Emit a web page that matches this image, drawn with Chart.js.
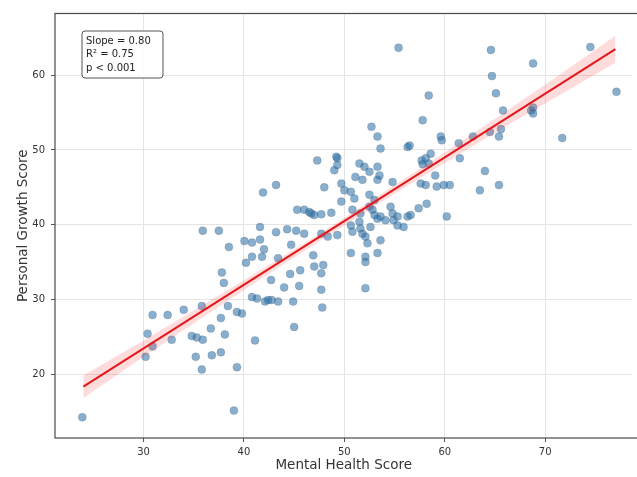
<!DOCTYPE html>
<html>
<head>
<meta charset="utf-8">
<script src="https://cdn.jsdelivr.net/npm/chart.js@4.4.1/dist/chart.umd.min.js"></script>
<style>
  html, body { margin: 0; padding: 0; background: #fff; overflow: hidden; }
  #wrap { width: 637px; height: 477px; }
</style>
</head>
<body>
<div id="wrap"><canvas id="regChart" width="637" height="477"></canvas></div>
<script>
// Scatter values (x = mental health, y = personal growth)
const mentalHealth = [
  23.9, 35.9, 37.5, 38.5, 40.05, 40.8, 41.6, 41.6, 42.0, 41.8, 40.8, 40.2, 43.2, 44.3, 45.2, 46.0,
  44.7, 45.3, 46.7, 47.0, 48.7, 49.7, 47.7, 48.35, 49.3, 43.4, 42.7, 44.0, 44.6, 45.6, 45.5, 46.9,
  47.0, 47.9, 47.7, 47.7, 47.8, 44.9, 45.0, 42.75, 43.4, 40.8, 41.3, 42.1, 42.4, 41.1, 39.3, 39.8,
  38.4, 37.8, 38.0, 37.7, 35.8, 34.0, 32.4, 30.9, 36.7, 38.1, 34.8, 35.3, 35.9, 32.8, 30.4, 30.9,
  30.2, 35.2, 36.8, 37.7, 35.8, 39.3, 39.0, 41.9, 43.2, 48.0, 47.3, 49.0, 46.5, 47.7,
  52.7, 57.8, 53.3, 53.6, 56.3, 56.5, 59.6, 59.7, 49.3, 49.3, 51.5, 52.0, 52.5, 53.3, 53.5, 51.1,
  51.8, 53.3, 57.7, 58.1, 58.6, 57.8, 58.4, 49.7, 50.0, 50.65, 51.0, 52.5, 53.0, 54.8, 57.6, 58.1,
  59.2, 59.9, 60.5, 59.05, 46.0, 50.8, 51.6, 52.5, 52.8, 53.0, 53.3, 53.6, 54.6, 54.8, 55.3, 56.3,
  56.6, 57.4, 58.2, 60.2, 50.65, 50.8, 51.6, 52.1, 52.6, 54.1, 55.3, 55.9, 52.3, 53.6, 53.3, 50.65,
  52.1, 52.1, 52.1, 51.8, 51.5, 54.9, 64.6, 68.8, 74.5, 77.1, 64.7, 65.1, 65.8, 68.6, 68.8, 68.8,
  71.7, 65.6, 64.5, 65.4, 62.8, 61.4, 61.5, 64.0, 63.5, 65.4, 58.4, 55.4, 49.2
];
const personalGrowth = [
  14.2, 39.2, 39.2, 37.0, 37.8, 37.6, 39.7, 38.0, 36.7, 35.7, 35.7, 34.9, 39.0, 39.4, 39.2, 38.8,
  37.3, 42.0, 41.5, 41.3, 41.6, 43.1, 38.8, 38.4, 38.6, 35.5, 32.6, 31.6, 33.4, 33.9, 31.8, 35.9,
  34.4, 34.6, 33.5, 31.3, 28.9, 29.7, 26.3, 29.9, 29.7, 30.3, 30.1, 29.7, 29.9, 24.5, 28.3, 28.1,
  29.1, 33.6, 32.2, 27.5, 29.1, 28.6, 27.9, 27.9, 26.1, 25.3, 25.1, 24.9, 24.6, 24.6, 25.4, 23.7,
  22.3, 22.3, 22.5, 22.9, 20.6, 20.9, 15.1, 44.3, 45.3, 45.0, 48.6, 47.3, 41.7, 41.4,
  53.1, 54.0, 51.8, 50.2, 50.4, 50.6, 51.8, 51.3, 48.9, 48.0, 48.2, 47.75, 47.1, 47.75, 46.6, 46.4,
  46.0, 46.0, 48.6, 48.9, 49.5, 48.1, 48.2, 45.5, 44.6, 44.4, 43.5, 44.0, 43.3, 45.7, 45.5, 45.3,
  45.1, 45.3, 45.3, 46.6, 42.0, 42.0, 41.5, 42.4, 42.0, 41.3, 40.8, 41.1, 42.4, 41.5, 41.1, 41.1,
  41.3, 42.2, 42.8, 41.1, 39.9, 39.05, 39.5, 38.4, 39.7, 40.6, 39.9, 39.7, 37.5, 37.9, 36.2, 36.2,
  35.7, 35.0, 31.5, 38.8, 40.4, 40.6, 63.4, 61.6, 63.8, 57.8, 59.9, 57.6, 55.3, 55.3, 55.7, 54.9,
  51.6, 52.8, 52.4, 51.8, 51.8, 50.9, 48.9, 47.2, 44.6, 45.3, 57.3, 63.7, 49.1
];

// Fitted line and its confidence band
const fitX = [24, 77];
const fitY = [18.3, 63.5];
const bandX = [24, 30, 36, 42, 48, 54, 60, 66, 72, 77];
const bandLower = [16.8, 22.3, 27.7, 33.0, 38.2, 43.3, 48.25, 53.1, 57.8, 61.7];
const bandUpper = [19.8, 24.5, 29.3, 34.2, 39.2, 44.4, 49.65, 55.1, 60.6, 65.3];

const xTicks = [30, 40, 50, 60, 70];
const yTicks = [20, 30, 40, 50, 60];
const statLines = ['Slope = 0.80', 'R\u00b2 = 0.75', 'p < 0.001'];

const FONT = '"DejaVu Sans", sans-serif';

function toPoints(xs, ys) {
    return xs.map((x, i) => ({ x: x, y: ys[i] }));
}

// axes box (matplotlib style spines) and the stats text box
const frameAndStats = {
    id: 'frameAndStats',
    afterDraw(chart) {
        const ctx = chart.ctx;
        const a = chart.chartArea;
        ctx.save();
        ctx.strokeStyle = '#4a4a4a';
        ctx.lineWidth = 1.2;
        ctx.strokeRect(a.left, a.top, a.right - a.left + 20, a.bottom - a.top);

        const bx = 82, by = 31, bw = 81, bh = 47, r = 3;
        ctx.beginPath();
        ctx.moveTo(bx + r, by);
        ctx.arcTo(bx + bw, by, bx + bw, by + bh, r);
        ctx.arcTo(bx + bw, by + bh, bx, by + bh, r);
        ctx.arcTo(bx, by + bh, bx, by, r);
        ctx.arcTo(bx, by, bx + bw, by, r);
        ctx.closePath();
        ctx.fillStyle = 'rgba(255,255,255,0.85)';
        ctx.fill();
        ctx.strokeStyle = '#555';
        ctx.lineWidth = 1;
        ctx.stroke();

        ctx.fillStyle = '#222';
        ctx.font = '10px ' + FONT;
        ctx.textAlign = 'left';
        ctx.textBaseline = 'middle';
        statLines.forEach((t, i) => ctx.fillText(t, bx + 4, by + 10 + i * 13.7));
        ctx.restore();
    }
};

new Chart(document.getElementById('regChart'), {
    type: 'scatter',
    plugins: [frameAndStats],
    data: {
        datasets: [
            {
                label: 'Participants',
                data: toPoints(mentalHealth, personalGrowth),
                backgroundColor: 'rgba(40, 110, 165, 0.55)',
                borderColor: 'rgba(70, 90, 110, 0.35)',
                borderWidth: 0.6,
                pointRadius: 4,
                order: 3
            },
            {
                label: 'CI low',
                data: toPoints(bandX, bandLower),
                showLine: true,
                borderWidth: 0,
                borderColor: 'rgba(0,0,0,0)',
                pointRadius: 0,
                fill: false,
                order: 2
            },
            {
                label: 'CI high',
                data: toPoints(bandX, bandUpper),
                showLine: true,
                borderWidth: 0,
                borderColor: 'rgba(0,0,0,0)',
                backgroundColor: 'rgba(255, 40, 40, 0.16)',
                pointRadius: 0,
                fill: '-1',
                order: 2
            },
            {
                label: 'Fit',
                data: toPoints(fitX, fitY),
                showLine: true,
                borderColor: '#e3171c',
                borderWidth: 2,
                pointRadius: 0,
                order: 1
            }
        ]
    },
    options: {
        responsive: false,
        animation: false,
        devicePixelRatio: 1,
        layout: { padding: { top: 13.5, right: 0, left: 0, bottom: 0 } },
        plugins: {
            legend: { display: false },
            tooltip: { enabled: false }
        },
        scales: {
            x: {
                type: 'linear',
                min: 21.18,
                max: 78.69,
                afterBuildTicks: (s) => { s.ticks = xTicks.map(v => ({ value: v })); },
                afterFit: (s) => { s.height = 39; },
                border: { display: false },
                grid: { color: '#e4e4e4', lineWidth: 1, tickLength: 4, tickColor: '#555' },
                ticks: { color: '#333', font: { family: FONT, size: 10 }, padding: 4 },
                title: {
                    display: true,
                    text: 'Mental Health Score',
                    color: '#333',
                    font: { family: FONT, size: 13.5 },
                    padding: { top: 0, bottom: 3 }
                }
            },
            y: {
                type: 'linear',
                min: 11.43,
                max: 68.28,
                afterBuildTicks: (s) => { s.ticks = yTicks.map(v => ({ value: v })); },
                afterFit: (s) => { s.width = 55; },
                border: { display: false },
                grid: { color: '#e4e4e4', lineWidth: 1, tickLength: 4, tickColor: '#555' },
                ticks: { color: '#333', font: { family: FONT, size: 10 }, padding: 6 },
                title: {
                    display: true,
                    text: 'Personal Growth Score',
                    color: '#333',
                    font: { family: FONT, size: 13.5 },
                    padding: { top: 15, bottom: 0 }
                }
            }
        }
    }
});
</script>
</body>
</html>
